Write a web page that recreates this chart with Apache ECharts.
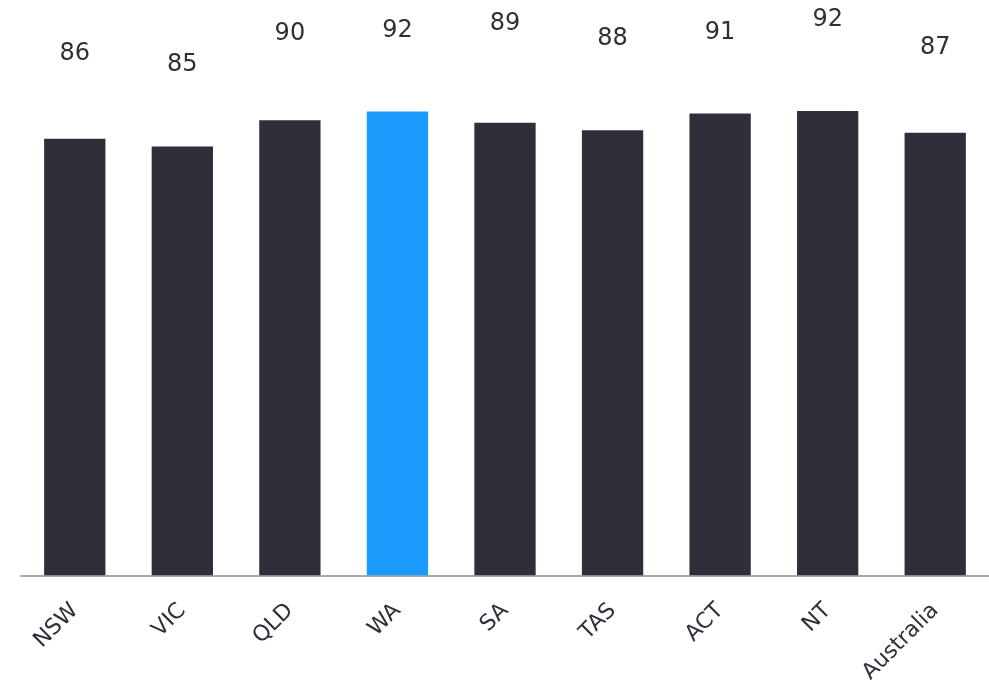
<!DOCTYPE html>
<html lang="en" style="height: 100%">
<head>
  <meta charset="utf-8">
  <title>Bar Chart</title>
</head>
<body style="height: 100%; margin: 0">
  <div id="container" style="width: 989px; height: 686px"></div>

  <script type="text/javascript" src="https://cdn.jsdelivr.net/npm/echarts@6.0.0/dist/echarts.min.js"></script>

  <script type="text/javascript">
    var categories = ['NSW', 'VIC', 'QLD', 'WA', 'SA', 'TAS', 'ACT', 'NT', 'Australia'];
    var values = [86.2, 84.7, 89.9, 91.6, 89.4, 87.9, 91.2, 91.7, 87.4];
    var highlight = 'WA';
    // how far each value label sits above its bar (px), as in the source
    var labelLift = [73, 70, 74, 69, 87, 79, 69, 79, 73];

    var dom = document.getElementById('container');
    var myChart = echarts.init(dom, null, { renderer: 'canvas' });

    var option = {
      animation: false,
      grid: { left: 21, right: 0, top: 69, bottom: 109, containLabel: false },
      xAxis: {
        type: 'category',
        data: categories,
        axisLine: { lineStyle: { color: '#a9a9ad', width: 2 } },
        axisTick: { show: false },
        axisLabel: {
          rotate: 45,
          margin: 32,
          color: '#2f2f3a',
          fontSize: 22,
          fontFamily: 'DejaVu Sans'
        }
      },
      yAxis: {
        type: 'value',
        min: 0,
        max: 100,
        show: false,
        splitLine: { show: false }
      },
      series: [
        {
          type: 'bar',
          barWidth: '57%',
          data: values.map(function (v, i) {
            return {
              value: v,
              itemStyle: { color: categories[i] === highlight ? '#1a9bfc' : '#2f2f3a' },
              label: { distance: labelLift[i] }
            };
          }),
          label: {
            show: true,
            position: 'top',
            color: '#2f2f3a',
            fontSize: 24,
            fontFamily: 'DejaVu Sans',
            formatter: function (p) { return Math.round(p.value); }
          }
        }
      ]
    };

    myChart.setOption(option);
    window.addEventListener('resize', function () { myChart.resize(); });
  </script>
</body>
</html>
